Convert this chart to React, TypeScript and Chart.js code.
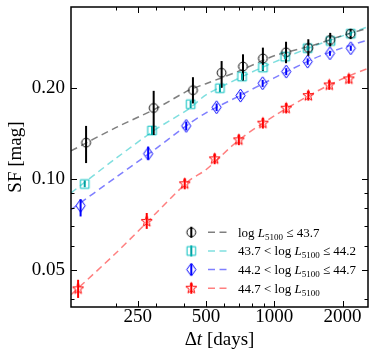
import React, { useEffect, useRef } from 'react';
import { Chart, registerables } from 'chart.js';
Chart.register(...registerables);

const FONT = "'Liberation Serif', 'Times New Roman', serif";

// axis ranges and ticks
const xRange = [127, 2590];
const yRange = [0.0377, 0.3715];
const xMajorTicks = [250, 500, 1000, 2000];
const xMinorTicks = [200, 300, 400, 600, 700, 800, 900];
const yMajorTicks = [0.05, 0.1, 0.2];
const yMinorTicks = [0.04, 0.06, 0.07, 0.08, 0.09];

// series 1: log L5100 <= 43.7
const dt1 = [148, 294, 438, 586, 728, 891, 1127, 1413, 1765, 2171];
const sf1 = [0.132, 0.172, 0.197, 0.225, 0.236, 0.251, 0.263, 0.272, 0.289, 0.303];
const sf1Lo = [0.113, 0.140, 0.178, 0.2005, 0.212, 0.228, 0.242, 0.256, 0.275, 0.291];
const sf1Hi = [0.150, 0.196, 0.2175, 0.246, 0.259, 0.2725, 0.285, 0.2905, 0.305, 0.314];

// series 2: 43.7 < log L5100 <= 44.2
const dt2 = [146, 289, 428, 576, 721, 891, 1117, 1404, 1770, 2175];
const sf2 = [0.0963, 0.1448, 0.177, 0.200, 0.2185, 0.234, 0.2544, 0.2713, 0.2867, 0.303];
const sf2Lo = [0.094, 0.140, 0.172, 0.194, 0.213, 0.229, 0.249, 0.266, 0.282, 0.298];
const sf2Hi = [0.099, 0.150, 0.182, 0.206, 0.224, 0.239, 0.260, 0.277, 0.292, 0.308];

// series 3: 44.2 < log L5100 <= 44.7
const dt3 = [140, 278, 409, 557, 710, 889, 1129, 1404, 1760, 2175];
const sf3 = [0.0816, 0.1213, 0.150, 0.173, 0.189, 0.2077, 0.227, 0.245, 0.261, 0.2713];
const sf3Lo = [0.0752, 0.1159, 0.145, 0.168, 0.184, 0.202, 0.221, 0.239, 0.256, 0.266];
const sf3Hi = [0.0857, 0.1282, 0.155, 0.178, 0.194, 0.213, 0.233, 0.251, 0.266, 0.276];

// series 4: 44.7 < log L5100
const dt4 = [136.5, 274, 403, 546, 698, 891, 1129, 1413, 1748, 2132];
const sf4 = [0.0433, 0.0724, 0.0965, 0.1167, 0.1349, 0.1532, 0.1717, 0.189, 0.205, 0.2147];
const sf4Lo = [0.0404, 0.0684, 0.0925, 0.1120, 0.1295, 0.1470, 0.1650, 0.1820, 0.1975, 0.2070];
const sf4Hi = [0.0464, 0.0772, 0.1005, 0.1215, 0.1405, 0.1595, 0.1785, 0.1960, 0.2125, 0.2225];

// model curves
const fitDt = [127, 200, 300, 421, 500, 700, 1000, 1500, 2000, 2600];
const fit1 = [0.124, 0.148, 0.171, 0.197, 0.207, 0.228, 0.256, 0.278, 0.299, 0.316];
const fit2 = [0.090, 0.117, 0.146, 0.171, 0.190, 0.216, 0.244, 0.276, 0.298, 0.320];
const fit3 = [0.0792, 0.1013, 0.126, 0.1524, 0.1657, 0.1885, 0.2163, 0.251, 0.272, 0.289];
const fit4 = [0.0414, 0.0568, 0.0769, 0.0988, 0.1074, 0.1349, 0.162, 0.1932, 0.215, 0.233];

const labels = [
  'log L_5100 ≤ 43.7',
  '43.7 < log L_5100 ≤ 44.2',
  '44.2 < log L_5100 ≤ 44.7',
  '44.7 < log L_5100',
];
const xTitle = ['Δ', 't', ' [days]'];
const yTitle = 'SF [mag]';

function makeMarker(kind: string, color: string) {
  const c = document.createElement('canvas');
  const S = 17;
  c.width = S;
  c.height = S;
  const g = c.getContext('2d')!;
  g.strokeStyle = color;
  g.lineWidth = 1;
  const m = S / 2;
  g.beginPath();
  if (kind === 'circle') {
    g.arc(m, m, 4.4, 0, Math.PI * 2);
  } else if (kind === 'square') {
    g.rect(m - 4.3, m - 4.3, 8.6, 8.6);
  } else if (kind === 'diamond') {
    g.moveTo(m, m - 6.5);
    g.lineTo(m + 4.6, m);
    g.lineTo(m, m + 6.5);
    g.lineTo(m - 4.6, m);
    g.closePath();
  } else {
    for (let i = 0; i < 10; i++) {
      const r = i % 2 === 0 ? 5.8 : 2.4;
      const a = -Math.PI / 2 + (i * Math.PI) / 5;
      const px = m + r * Math.cos(a);
      const py = m + r * Math.sin(a);
      if (i === 0) g.moveTo(px, py);
      else g.lineTo(px, py);
    }
    g.closePath();
  }
  g.stroke();
  return c;
}

export default function App() {
  const ref = useRef<HTMLCanvasElement>(null);
  useEffect(() => {
    const canvas = ref.current!;
    const series = [
      { x: dt1, y: sf1, lo: sf1Lo, hi: sf1Hi, fit: fit1, kind: 'circle', color: '#000000', bar: '#000000', line: 'rgba(0,0,0,0.5)', label: labels[0] },
      { x: dt2, y: sf2, lo: sf2Lo, hi: sf2Hi, fit: fit2, kind: 'square', color: '#00bfbf', bar: '#00a0a0', line: 'rgba(0,191,191,0.5)', label: labels[1] },
      { x: dt3, y: sf3, lo: sf3Lo, hi: sf3Hi, fit: fit3, kind: 'diamond', color: '#0000ff', bar: '#0000ff', line: 'rgba(0,0,255,0.5)', label: labels[2] },
      { x: dt4, y: sf4, lo: sf4Lo, hi: sf4Hi, fit: fit4, kind: 'star', color: '#ff0000', bar: '#ff0000', line: 'rgba(255,0,0,0.5)', label: labels[3] },
    ];
    const markers = series.map((s) => makeMarker(s.kind, s.color));
    const dash = [7, 4.5];

    const datasets: any[] = [];
    series.forEach((s, i) => {
      datasets.push({
        type: 'scatter',
        data: s.x.map((v, j) => ({ x: v, y: s.y[j] })),
        pointStyle: markers[i],
        pointRadius: 5,
        showLine: false,
        order: 1,
      });
    });
    series.forEach((s) => {
      datasets.push({
        type: 'line',
        data: fitDt.map((v, j) => ({ x: v, y: s.fit[j] })),
        borderColor: s.line,
        borderWidth: 1.5,
        borderDash: dash,
        pointRadius: 0,
        fill: false,
        tension: 0.3,
        order: 2,
      });
    });

    const decor = {
      id: 'decor',
      afterDatasetsDraw(chart: any) {
        const ctx = chart.ctx;
        const xs = chart.scales.x;
        const ys = chart.scales.y;
        ctx.save();
        series.forEach((s) => {
          ctx.strokeStyle = s.bar;
          ctx.lineWidth = 2;
          s.x.forEach((v, j) => {
            const px = xs.getPixelForValue(v);
            ctx.beginPath();
            ctx.moveTo(px, ys.getPixelForValue(s.lo[j]));
            ctx.lineTo(px, ys.getPixelForValue(s.hi[j]));
            ctx.stroke();
          });
        });
        ctx.restore();
      },
      afterDraw(chart: any) {
        const ctx = chart.ctx;
        const a = chart.chartArea;
        const xs = chart.scales.x;
        const ys = chart.scales.y;
        ctx.save();
        // ticks (inward, all sides)
        ctx.strokeStyle = '#000';
        ctx.lineWidth = 1;
        const xt = (vals: number[], len: number) => {
          vals.forEach((v) => {
            const p = Math.round(xs.getPixelForValue(v)) + 0.5;
            ctx.beginPath();
            ctx.moveTo(p, a.bottom);
            ctx.lineTo(p, a.bottom - len);
            ctx.moveTo(p, a.top);
            ctx.lineTo(p, a.top + len);
            ctx.stroke();
          });
        };
        const yt = (vals: number[], len: number) => {
          vals.forEach((v) => {
            const p = Math.round(ys.getPixelForValue(v)) + 0.5;
            ctx.beginPath();
            ctx.moveTo(a.left, p);
            ctx.lineTo(a.left + len, p);
            ctx.moveTo(a.right, p);
            ctx.lineTo(a.right - len, p);
            ctx.stroke();
          });
        };
        xt(xMajorTicks, 6);
        xt(xMinorTicks, 3.5);
        yt(yMajorTicks, 6);
        yt(yMinorTicks, 3.5);
        // frame
        ctx.lineWidth = 1.5;
        ctx.strokeRect(a.left, a.top, a.right - a.left, a.bottom - a.top);

        // legend
        const rowH = 18.65;
        const y0 = a.bottom - 74.7;
        series.forEach((s, i) => {
          const cy = y0 + i * rowH;
          const mx = a.right - 176.7;
          ctx.strokeStyle = s.bar;
          ctx.lineWidth = 2;
          ctx.beginPath();
          ctx.moveTo(mx, cy - 5.5);
          ctx.lineTo(mx, cy + 5.5);
          ctx.stroke();
          const mk = markers[i];
          ctx.drawImage(mk, mx - mk.width / 2, cy - mk.height / 2);
          ctx.strokeStyle = s.line;
          ctx.lineWidth = 1.5;
          ctx.setLineDash(dash);
          ctx.beginPath();
          ctx.moveTo(a.right - 160, cy);
          ctx.lineTo(a.right - 137, cy);
          ctx.stroke();
          ctx.setLineDash([]);
          // rich text
          const t = s.label;
          const k = t.indexOf('L_5100');
          const pre = t.slice(0, k);
          const post = t.slice(k + 6);
          let tx = a.right - 130;
          const by = cy + 4.5;
          ctx.fillStyle = '#000';
          ctx.textBaseline = 'alphabetic';
          ctx.textAlign = 'left';
          ctx.font = `13px ${FONT}`;
          ctx.fillText(pre, tx, by);
          tx += ctx.measureText(pre).width;
          ctx.font = `italic 13px ${FONT}`;
          ctx.fillText('L', tx, by);
          tx += ctx.measureText('L').width;
          ctx.font = `9px ${FONT}`;
          ctx.fillText('5100', tx, by + 3);
          tx += ctx.measureText('5100').width;
          ctx.font = `13px ${FONT}`;
          ctx.fillText(post, tx, by);
        });

        // axis titles
        ctx.fillStyle = '#000';
        ctx.font = `19px ${FONT}`;
        ctx.save();
        ctx.translate(20.5, (a.top + a.bottom) / 2);
        ctx.rotate(-Math.PI / 2);
        ctx.textAlign = 'center';
        ctx.textBaseline = 'alphabetic';
        ctx.fillText(yTitle, 0, 0);
        ctx.restore();

        const fonts = [`19px ${FONT}`, `italic 19px ${FONT}`, `19px ${FONT}`];
        let total = 0;
        xTitle.forEach((p, i) => {
          ctx.font = fonts[i];
          total += ctx.measureText(p).width;
        });
        let tx = (a.left + a.right) / 2 - total / 2;
        ctx.textAlign = 'left';
        ctx.textBaseline = 'alphabetic';
        xTitle.forEach((p, i) => {
          ctx.font = fonts[i];
          ctx.fillText(p, tx, 345);
          tx += ctx.measureText(p).width;
        });
        ctx.restore();
      },
    };

    const tickFont = { family: FONT, size: 19, lineHeight: 1 };
    const chart = new Chart(canvas, {
      type: 'scatter',
      data: { datasets },
      options: {
        animation: false,
        responsive: false,
        devicePixelRatio: 1,
        layout: { padding: { top: 7, right: 4, left: 0, bottom: 0 } },
        plugins: { legend: { display: false }, tooltip: { enabled: false } },
        scales: {
          x: {
            type: 'logarithmic',
            min: xRange[0],
            max: xRange[1],
            afterBuildTicks: (s: any) => {
              s.ticks = xMajorTicks.map((v) => ({ value: v }));
            },
            afterFit: (s: any) => {
              s.height = 50;
              s.paddingLeft = 0;
              s.paddingRight = 0;
              s.paddingTop = 0;
              s.paddingBottom = 0;
            },
            grid: { display: false, drawTicks: false },
            border: { display: false },
            ticks: {
              color: '#000',
              font: tickFont,
              padding: 1,
              maxRotation: 0,
              autoSkip: false,
              callback: (v: any) => String(v),
            },
          },
          y: {
            type: 'logarithmic',
            min: yRange[0],
            max: yRange[1],
            afterBuildTicks: (s: any) => {
              s.ticks = yMajorTicks.map((v) => ({ value: v }));
            },
            afterFit: (s: any) => {
              s.width = 71;
              s.paddingLeft = 0;
              s.paddingRight = 0;
              s.paddingTop = 0;
              s.paddingBottom = 0;
            },
            grid: { display: false, drawTicks: false },
            border: { display: false },
            ticks: {
              color: '#000',
              font: tickFont,
              padding: 6,
              autoSkip: false,
              callback: (v: any) => Number(v).toFixed(2),
            },
          },
        },
      },
      plugins: [decor],
    } as any);
    return () => chart.destroy();
  }, []);

  return (
    <div style={{ position: 'fixed', left: 0, top: 0, width: 374, height: 357, background: '#fff' }}>
      <canvas ref={ref} width={374} height={357} style={{ display: 'block', width: 374, height: 357 }} />
    </div>
  );
}
